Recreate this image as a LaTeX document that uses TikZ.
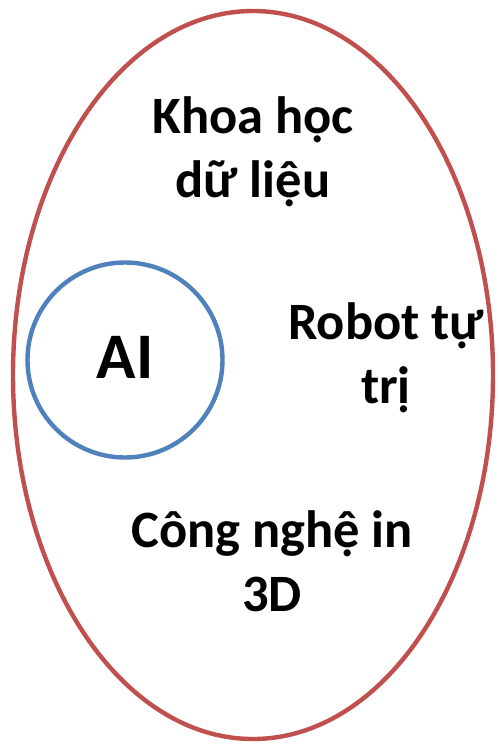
\documentclass[tikz,border=0pt]{standalone}
\usepackage{fontspec}
\setmainfont{Carlito}
\definecolor{fieldred}{HTML}{C0504D}
\definecolor{aiblue}{HTML}{4F81BD}
\begin{document}
\begin{tikzpicture}[x=1pt,y=-1pt]
	\tikzset{
		topic/.style={font=\fontsize{52.5}{64}\selectfont\bfseries, align=center, anchor=base, inner sep=0pt},
		ring/.style={line width=4.4pt},
	}
	\useasboundingbox (0,0) rectangle (498,744);
	
	% The big field around everything.
	\coordinate (mid) at (253,375);
	\draw[ring, draw=fieldred] (mid) ellipse [x radius=240, y radius=364];
	
	% The small AI circle on the left.
	\node (ai) [ring, circle, draw=aiblue, minimum size=195, inner sep=0pt, text depth=6pt,
		font=\fontsize{65}{78}\selectfont\bfseries] at (125,360) {AI};
	
	% The other topics, placed by the baseline of their last line.
	\node (data)  [topic] at (253,197) {Khoa học\\dữ liệu};
	\node (robot) [topic] at (386,403) {Robot tự\\trị};
	\node (print) [topic] at (272,611) {Công nghệ in\\3D};
\end{tikzpicture}
\end{document}
